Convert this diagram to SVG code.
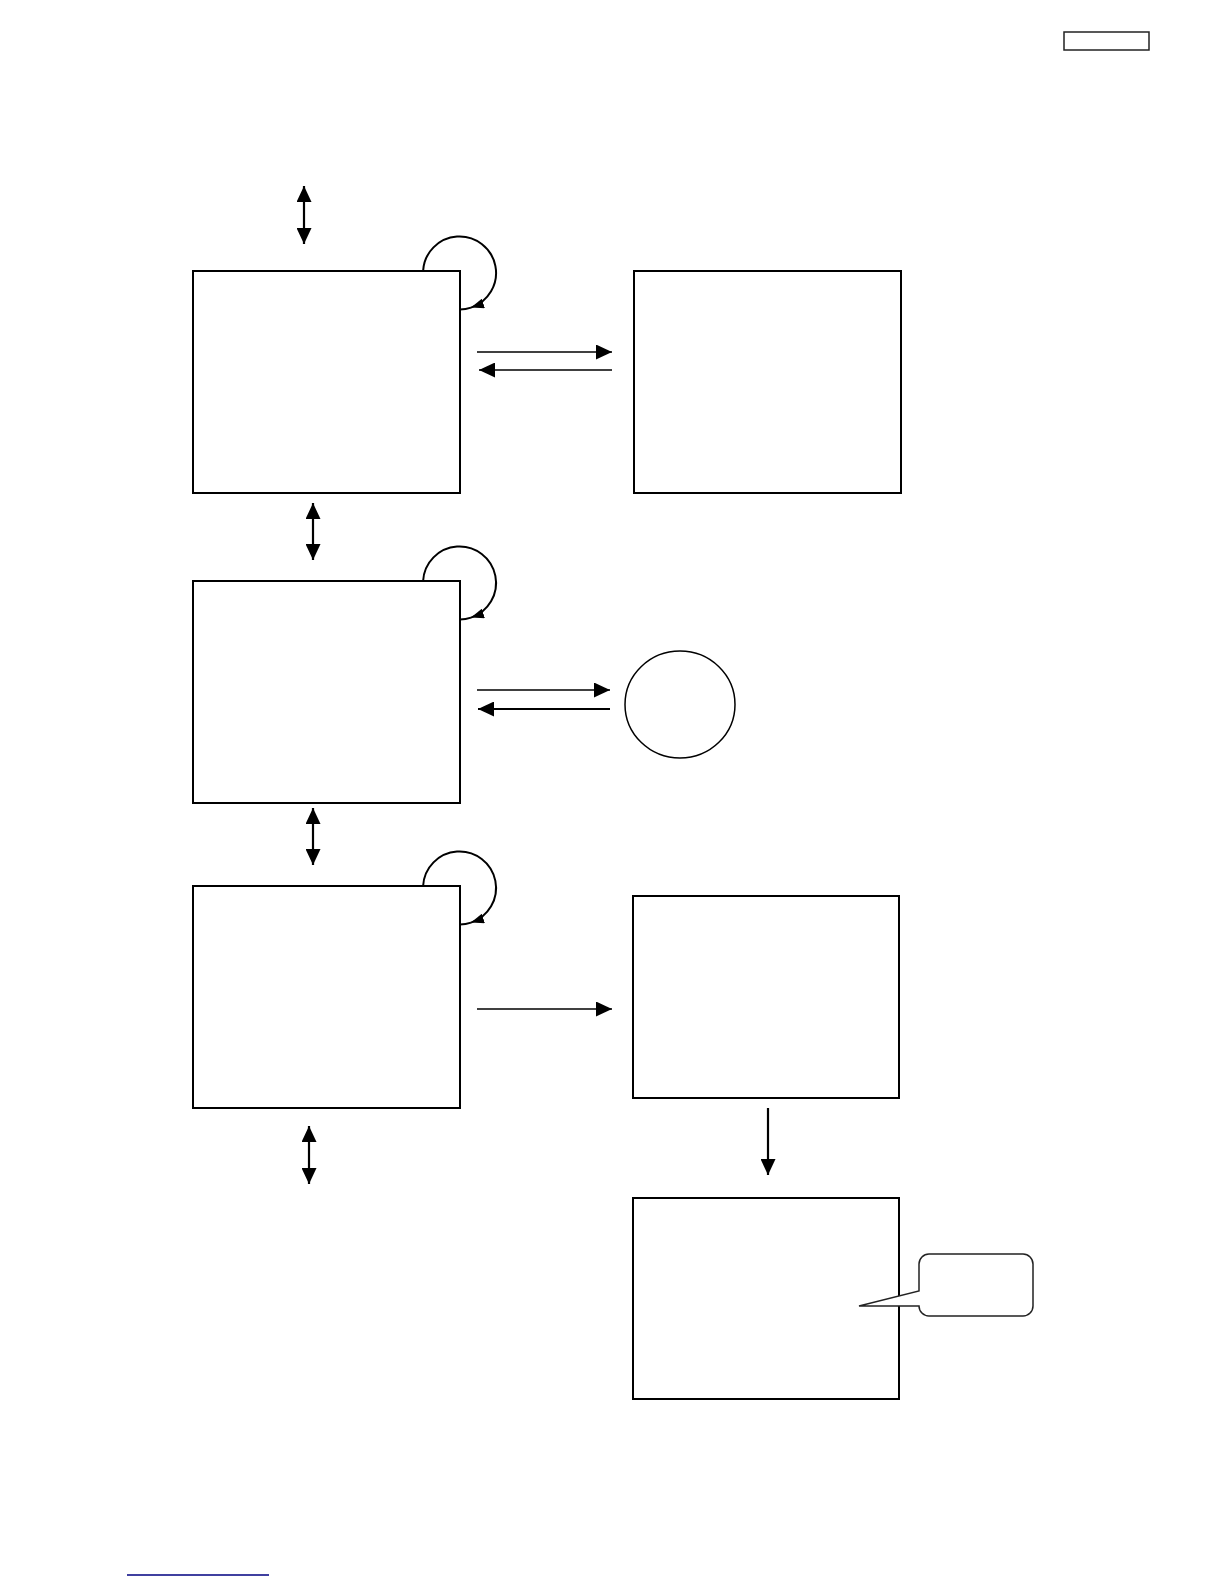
<svg xmlns="http://www.w3.org/2000/svg" width="1224" height="1584" viewBox="0 0 1224 1584">
<style>
.box{fill:#fff;stroke:#000;stroke-width:2}
.ln{fill:none;stroke:#000;stroke-width:2.2}
.thin{fill:none;stroke:#000;stroke-width:1.5}
.loop{fill:none;stroke:#000;stroke-width:2}
</style>
<defs>
<marker id="ah" viewBox="0 0 16 15" refX="16" refY="7.5" markerWidth="16" markerHeight="15" markerUnits="userSpaceOnUse" orient="auto-start-reverse">
<path d="M0,0 L16,7.5 L0,15 z" fill="#000"/>
</marker>
<marker id="ahs" viewBox="0 0 13 10" refX="13" refY="5" markerWidth="13" markerHeight="10" markerUnits="userSpaceOnUse" orient="auto">
<path d="M0,0 L13,5 L0,10 z" fill="#000"/>
</marker>
</defs>
<rect x="0" y="0" width="1224" height="1584" fill="#fff"/>
<g id="header-box"><rect x="1064" y="32" width="85" height="18" fill="#fff" stroke="#222" stroke-width="1.5"/></g>
<g id="box1"><rect class="box" x="193" y="271" width="267" height="222"/></g>
<g id="box2"><rect class="box" x="634" y="271" width="267" height="222"/></g>
<g id="box3"><rect class="box" x="193" y="581" width="267" height="222"/></g>
<g id="circle1"><ellipse cx="680" cy="704.5" rx="55" ry="53.5" fill="#fff" stroke="#000" stroke-width="1.5"/></g>
<g id="box4"><rect class="box" x="193" y="886" width="267" height="222"/></g>
<g id="box5"><rect class="box" x="633" y="896" width="266" height="202"/></g>
<g id="box6"><rect class="box" x="633" y="1198" width="266" height="201"/></g>
<g id="callout"><path d="M919,1291 V1264 A10,10 0 0 1 929,1254 H1023 A10,10 0 0 1 1033,1264 V1306 A10,10 0 0 1 1023,1316 H929 A10,10 0 0 1 919,1306 L859,1306 Z" fill="#fff" stroke="#222" stroke-width="1.5"/></g>
<g id="connectors">
<line class="ln" x1="304" y1="186" x2="304" y2="244" marker-start="url(#ah)" marker-end="url(#ah)"/>
<line class="ln" x1="313" y1="503" x2="313" y2="560" marker-start="url(#ah)" marker-end="url(#ah)"/>
<line class="ln" x1="313" y1="808" x2="313" y2="865" marker-start="url(#ah)" marker-end="url(#ah)"/>
<line class="ln" x1="309" y1="1126" x2="309" y2="1184" marker-start="url(#ah)" marker-end="url(#ah)"/>
<line class="thin" x1="477" y1="352" x2="612" y2="352" marker-end="url(#ah)"/>
<line class="thin" x1="612" y1="370" x2="479" y2="370" marker-end="url(#ah)"/>
<line class="thin" x1="477" y1="690" x2="610" y2="690" marker-end="url(#ah)"/>
<line class="ln" x1="610" y1="709" x2="478" y2="709" marker-end="url(#ah)"/>
<line class="thin" x1="477" y1="1009" x2="612" y2="1009" marker-end="url(#ah)"/>
<line class="ln" x1="768" y1="1108" x2="768" y2="1175" marker-end="url(#ah)"/>
<path class="loop" d="M423.1,271 A36.5,36.5 0 1 1 471,307.6" marker-end="url(#ahs)"/>
<path class="loop" d="M471,307.6 A36.5,36.5 0 0 1 460,309.5"/>
<path class="loop" d="M423.1,581 A36.5,36.5 0 1 1 471,617.6" marker-end="url(#ahs)"/>
<path class="loop" d="M471,617.6 A36.5,36.5 0 0 1 460,619.5"/>
<path class="loop" d="M423.1,886 A36.5,36.5 0 1 1 471,922.6" marker-end="url(#ahs)"/>
<path class="loop" d="M471,922.6 A36.5,36.5 0 0 1 460,924.5"/>
</g>
<g id="footer-line"><line x1="127" y1="1575" x2="269" y2="1575" stroke="#000080" stroke-width="1.5"/></g>
</svg>
